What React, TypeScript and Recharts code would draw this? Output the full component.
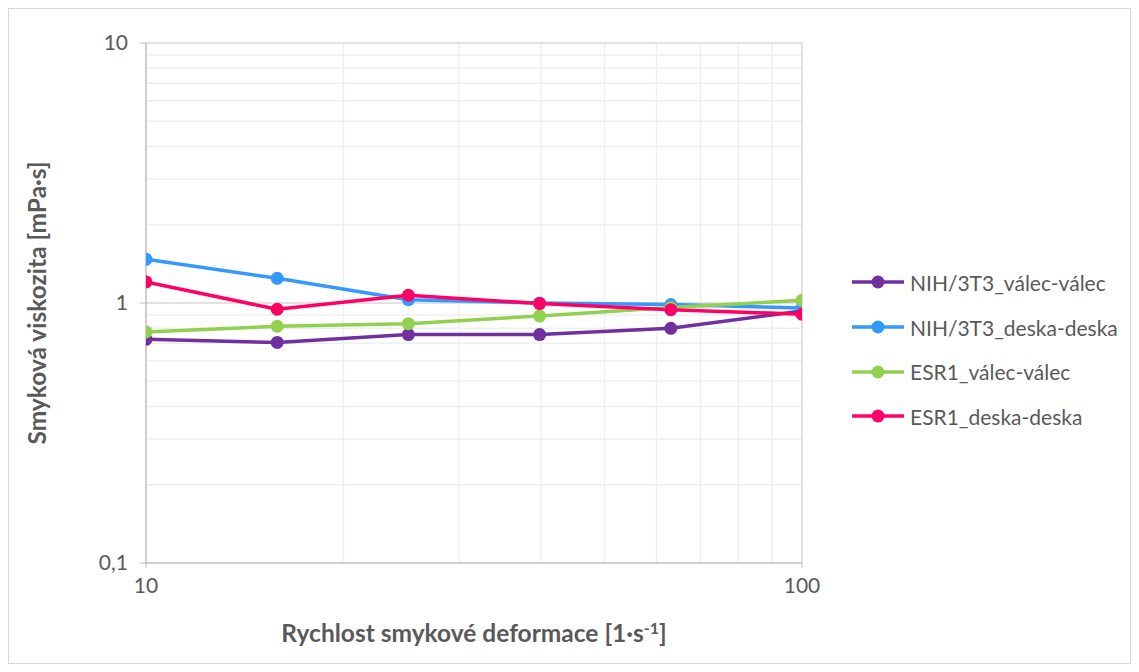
import React from 'react'
import {
  LineChart, Line, XAxis, YAxis, ReferenceLine, Label,
} from 'recharts'

const shearRates = [10, 15.85, 25.12, 39.81, 63.1, 100]

const nihValec = [0.725, 0.705, 0.756, 0.756, 0.799, 0.932]
const nihDeska = [1.472, 1.244, 1.03, 1.0, 0.986, 0.957]
const esrValec = [0.774, 0.814, 0.833, 0.891, 0.96, 1.024]
const esrDeska = [1.205, 0.946, 1.071, 0.995, 0.943, 0.905]

const xTicks = [10, 100]
const yTicks = [0.1, 1, 10]
const xMinor = [20, 30, 40, 50, 60, 70, 80, 90]
const yMinor = [0.2, 0.3, 0.4, 0.5, 0.6, 0.7, 0.8, 0.9, 2, 3, 4, 5, 6, 7, 8, 9]

const series = [
  { key: 'nihValec', name: 'NIH/3T3_válec-válec', color: '#7030a0' },
  { key: 'nihDeska', name: 'NIH/3T3_deska-deska', color: '#3399ff' },
  { key: 'esrValec', name: 'ESR1_válec-válec', color: '#92d050' },
  { key: 'esrDeska', name: 'ESR1_deska-deska', color: '#ff0066' },
]

const data = shearRates.map((x, i) => ({
  x,
  nihValec: nihValec[i],
  nihDeska: nihDeska[i],
  esrValec: esrValec[i],
  esrDeska: esrDeska[i],
}))

const FONT = 'Lato, "Open Sans", sans-serif'
const TEXT = '#595959'

function XTitle(props: any) {
  const { x, y, width } = props.viewBox
  return (
    <text x={x + width / 2} y={y + 79} textAnchor="middle" fill={TEXT}
      fontFamily={FONT} fontWeight="bold" fontSize={24.5}>
      Rychlost smykové deformace [1·s
      <tspan dy={-8} fontSize={16}>-1</tspan>
      <tspan dy={8}>]</tspan>
    </text>
  )
}

function YTitle(props: any) {
  const { x, y, height } = props.viewBox
  const cx = x - 50
  const cy = y + height / 2
  return (
    <text x={cx} y={cy} textAnchor="middle" dominantBaseline="central" fill={TEXT}
      fontFamily={FONT} fontWeight="bold" fontSize={24.5} transform={`rotate(-90 ${cx} ${cy})`}>
      Smyková viskozita [mPa·s]
    </text>
  )
}

function LegendBox() {
  return (
    <div style={{ position: 'absolute', left: 843, top: 251, fontFamily: FONT, fontSize: 21, color: TEXT }}>
      {series.map(s => (
        <div key={s.key} style={{ display: 'flex', alignItems: 'center', height: 44.7 }}>
          <svg width={58} height={16}>
            <line x1={0} y1={8} x2={52} y2={8} stroke={s.color} strokeWidth={3.5} />
            <circle cx={26} cy={8} r={6.5} fill={s.color} />
          </svg>
          <span>{s.name}</span>
        </div>
      ))}
    </div>
  )
}

export default function App() {
  return (
    <div style={{ position: 'relative', width: 1121, height: 654, border: '1px solid #d9d9d9', background: '#fff' }}>
      <LineChart width={1121} height={654} data={data}
        margin={{ top: 34, right: 328, bottom: 70, left: 77 }}>
        {yMinor.map(v => (
          <ReferenceLine key={'ym' + v} y={v} stroke="#efefef" strokeWidth={1.5} />
        ))}
        {xMinor.map(v => (
          <ReferenceLine key={'xm' + v} x={v} stroke="#efefef" strokeWidth={1.5} />
        ))}
        <ReferenceLine y={1} stroke="#d9d9d9" strokeWidth={1.5} />
        <ReferenceLine y={10} stroke="#d9d9d9" strokeWidth={1.5} />
        <ReferenceLine x={100} stroke="#d9d9d9" strokeWidth={1.5} />
        <XAxis dataKey="x" type="number" scale="log" domain={[10, 100]} ticks={xTicks}
          allowDataOverflow height={30}
          axisLine={{ stroke: '#bfbfbf', strokeWidth: 1.5 }}
          tickLine={{ stroke: '#bfbfbf' }} tickSize={5} tickMargin={10}
          tick={{ fill: TEXT, fontSize: 21, fontFamily: FONT }}>
          <Label content={XTitle} />
        </XAxis>
        <YAxis type="number" scale="log" domain={[0.1, 10]} ticks={yTicks}
          allowDataOverflow width={60}
          tickFormatter={(v: number) => String(v).replace('.', ',')}
          axisLine={{ stroke: '#bfbfbf', strokeWidth: 1.5 }}
          tickLine={{ stroke: '#bfbfbf' }} tickSize={6} tickMargin={12}
          tick={{ fill: TEXT, fontSize: 21, fontFamily: FONT }}>
          <Label content={YTitle} />
        </YAxis>
        {series.map(s => (
          <Line key={s.key} dataKey={s.key} name={s.name} type="linear"
            stroke={s.color} strokeWidth={3.5}
            dot={{ r: 6.5, fill: s.color, stroke: s.color, strokeWidth: 0 }}
            activeDot={false} isAnimationActive={false} />
        ))}
      </LineChart>
      <LegendBox />
    </div>
  )
}
